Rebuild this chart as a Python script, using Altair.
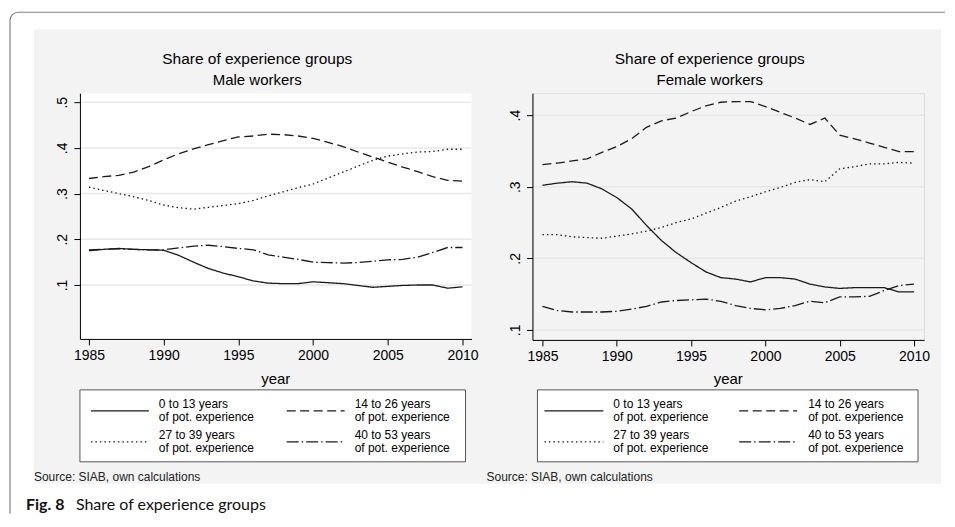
import altair as alt
import pandas as pd

# ---------------- data ----------------
years = list(range(1985, 2011))
groups = ["0 to 13 years", "14 to 26 years", "27 to 39 years", "40 to 53 years"]

male_0_13 = [0.175, 0.178, 0.180, 0.178, 0.177, 0.176, 0.165, 0.150, 0.136, 0.126,
             0.118, 0.109, 0.104, 0.103, 0.103, 0.107, 0.105, 0.103, 0.099, 0.095,
             0.097, 0.099, 0.100, 0.100, 0.093, 0.096]
male_14_26 = [0.333, 0.337, 0.340, 0.347, 0.359, 0.374, 0.387, 0.398, 0.407, 0.416,
              0.424, 0.426, 0.430, 0.429, 0.426, 0.421, 0.412, 0.403, 0.391, 0.380,
              0.369, 0.358, 0.348, 0.337, 0.329, 0.327]
male_27_39 = [0.314, 0.307, 0.300, 0.293, 0.285, 0.275, 0.269, 0.266, 0.270, 0.274,
              0.278, 0.285, 0.295, 0.304, 0.313, 0.321, 0.334, 0.347, 0.360, 0.373,
              0.382, 0.387, 0.391, 0.392, 0.397, 0.397]
male_40_53 = [0.177, 0.178, 0.179, 0.178, 0.177, 0.177, 0.181, 0.185, 0.187, 0.184,
              0.180, 0.177, 0.166, 0.161, 0.156, 0.150, 0.149, 0.148, 0.149, 0.152,
              0.155, 0.156, 0.161, 0.171, 0.182, 0.182]

female_0_13 = [0.302, 0.305, 0.307, 0.305, 0.297, 0.285, 0.269, 0.246, 0.225, 0.208,
               0.194, 0.181, 0.173, 0.171, 0.167, 0.173, 0.173, 0.171, 0.164, 0.160,
               0.158, 0.159, 0.159, 0.159, 0.153, 0.153]
female_14_26 = [0.331, 0.333, 0.336, 0.339, 0.348, 0.356, 0.367, 0.383, 0.392, 0.396,
                0.405, 0.413, 0.418, 0.419, 0.419, 0.412, 0.404, 0.396, 0.387, 0.396,
                0.372, 0.367, 0.361, 0.355, 0.349, 0.349]
female_27_39 = [0.233, 0.233, 0.230, 0.229, 0.228, 0.231, 0.234, 0.238, 0.243, 0.250,
                0.255, 0.263, 0.271, 0.280, 0.286, 0.293, 0.299, 0.306, 0.310, 0.307,
                0.325, 0.328, 0.332, 0.332, 0.334, 0.333]
female_40_53 = [0.133, 0.127, 0.125, 0.125, 0.125, 0.126, 0.129, 0.133, 0.139, 0.141,
                0.142, 0.143, 0.140, 0.134, 0.130, 0.128, 0.130, 0.134, 0.140, 0.138,
                0.146, 0.146, 0.147, 0.155, 0.162, 0.164]

x_ticks = [1985, 1990, 1995, 2000, 2005, 2010]
y_ticks_male = [0.1, 0.2, 0.3, 0.4, 0.5]
y_ticks_female = [0.1, 0.2, 0.3, 0.4]

title_text = "Share of experience groups"
subtitle_male = "Male workers"
subtitle_female = "Female workers"
legend_line2 = "of pot. experience"
x_title = "year"
source_text = "Source: SIAB, own calculations"
caption_bold = "Fig. 8"
caption_text = "Share of experience groups"

# ---------------- style ----------------
FONT = "Liberation Sans"
INK = "#1a1a1a"
DASHES = [[1, 0], [9, 4.5], [1.5, 3], [12, 3, 1.5, 3]]
GREY_BG = "#f3f3f3"
GRID = "#e8e8e8"

one = pd.DataFrame({"k": [0]})


def long_df(series):
    rows = []
    for g, vals in zip(groups, series):
        for yr, v in zip(years, vals):
            rows.append({"year": yr, "share": v, "group": g})
    return pd.DataFrame(rows)


def txt(text, x, y, size, align="left", baseline="alphabetic", weight="normal",
        font=FONT, color="#000"):
    return alt.Chart(one).mark_text(
        text=text, align=align, baseline=baseline, fontSize=size,
        fontWeight=weight, font=font, color=color
    ).encode(x=alt.value(x), y=alt.value(y))


def hrule(x1, x2, y, color, width, dash=None):
    kw = dict(color=color, strokeWidth=width)
    if dash is not None:
        kw["strokeDash"] = dash
    return alt.Chart(one).mark_rule(**kw).encode(
        x=alt.value(x1), x2=alt.value(x2), y=alt.value(y))


def vrule(x, y1, y2, color, width):
    return alt.Chart(one).mark_rule(color=color, strokeWidth=width).encode(
        x=alt.value(x), y=alt.value(y1), y2=alt.value(y2))


def box(x1, x2, y1, y2, fill, stroke=None, sw=0):
    kw = dict(fill=fill)
    if stroke is not None:
        kw.update(stroke=stroke, strokeWidth=sw)
    else:
        kw.update(strokeWidth=0)
    return alt.Chart(one).mark_rect(**kw).encode(
        x=alt.value(x1), x2=alt.value(x2), y=alt.value(y1), y2=alt.value(y2))


def legend_layers(bx1, bx2, s1, s2, t1, s3, s4, t2):
    L = [box(bx1, bx2, 297, 369, "white", "#555555", 1)]
    cols = [(s1, s2, t1), (s3, s4, t2)]
    rows = [318, 349]
    for i, g in enumerate(groups):
        c = cols[i % 2]
        r = rows[i // 2]
        L.append(hrule(c[0], c[1], r, INK, 1.3, DASHES[i] if i else None))
        L.append(txt(g, c[2], r - 6.5, 12, baseline="middle"))
        L.append(txt(legend_line2, c[2], r + 6.5, 12, baseline="middle"))
    return L


def panel(series, subtitle, xdom, ydom, yticks, W, H, legend_pos, extra_bg=None):
    df = long_df(series)
    xs = alt.Scale(domain=xdom, nice=False, zero=False)
    ys = alt.Scale(domain=ydom, nice=False, zero=False)
    xaxis = alt.Axis(values=x_ticks, format="d", title=None, grid=False, zindex=1,
                     tickSize=6, labelPadding=4, labelFontSize=14, labelFont=FONT,
                     labelColor="#000", domainColor="#000", tickColor="#000",
                     labelFlush=False, labelOverlap=False)
    yaxis = alt.Axis(values=yticks, title=None, grid=False, zindex=1,
                     labelExpr="'.' + format(datum.value*10, '.0f')",
                     labelAngle=270, labelAlign="center", labelBaseline="bottom",
                     tickSize=6, labelPadding=4, labelFontSize=14, labelFont=FONT,
                     labelColor="#000", domainColor="#000", tickColor="#000",
                     labelFlush=False, labelOverlap=False)
    grid = alt.Chart(pd.DataFrame({"share": yticks})).mark_rule(
        color=GRID, strokeWidth=1.5
    ).encode(y=alt.Y("share:Q", scale=ys, axis=yaxis))
    lines = alt.Chart(df).mark_line(strokeWidth=1.3, color=INK).encode(
        x=alt.X("year:Q", scale=xs, axis=xaxis),
        y=alt.Y("share:Q", scale=ys, axis=yaxis),
        strokeDash=alt.StrokeDash("group:N", sort=groups,
                                  scale=alt.Scale(domain=groups, range=DASHES),
                                  legend=None),
    )
    layers = []
    if extra_bg:
        layers += extra_bg
    layers += [grid, lines]
    layers += legend_layers(*legend_pos)
    layers += [
        txt(title_text, 177.5, -29, 15.5, align="center"),
        txt(subtitle, 177.5, -8, 15, align="center"),
        txt(x_title, W / 2, 291, 15, align="center"),
        txt(source_text, -46, 388, 12, color="#222"),
    ]
    return alt.layer(*layers).properties(width=W, height=H)


W = 392
frame_col = "#808080"
bg_layers = [
    box(-71, 866, -84, 421, "white"),
    hrule(-62, 866, -81, frame_col, 1.2),
    vrule(-70, -73, 421, frame_col, 1.2),
    alt.Chart(one).mark_arc(theta=4.7124, theta2=6.2832, radius=8.6, radius2=7.4,
                            color=frame_col).encode(x=alt.value(-62), y=alt.value(-73)),
    box(-46, 862, -64, 391, GREY_BG),
    box(0, W, 0, 246, "white"),
    txt(caption_bold, -54, 417, 16, weight="bold", font="Lato", color="#111"),
    txt(caption_text, -4, 417, 16, font="Lato", color="#111"),
]

left = panel([male_0_13, male_14_26, male_27_39, male_40_53], subtitle_male,
             [1984.398, 2010.602], [-0.018, 0.5197], y_ticks_male, W, 246,
             (0, 386, 11, 69, 79, 207, 265, 275), extra_bg=bg_layers)
right = panel([female_0_13, female_14_26, female_27_39, female_40_53], subtitle_female,
              [1984.328, 2010.672], [0.086, 0.4307], y_ticks_female, W, 247,
              (5, 386, 12, 71, 81, 207, 265, 276))

chart = alt.hconcat(left, right, spacing=61, bounds="flush").properties(
    padding={"left": 0, "top": 0, "right": 0, "bottom": 0}
).configure_view(stroke=None, fill="white").configure(background="white")

chart.save("out.html", embed_options={"renderer": "svg", "actions": False})
